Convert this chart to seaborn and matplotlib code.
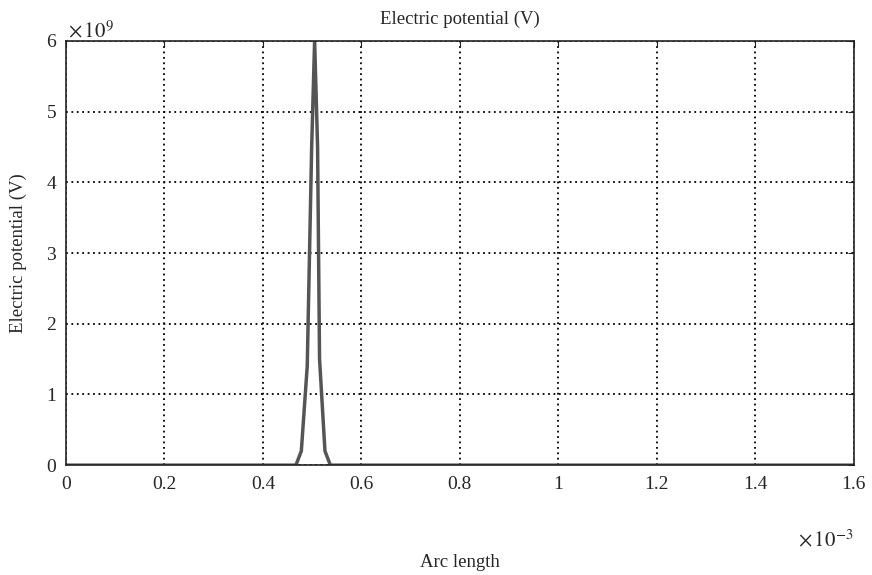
import matplotlib
matplotlib.use("Agg")
import matplotlib.pyplot as plt
import seaborn as sns
import pandas as pd

# arc length (x 1e-3) and electric potential (x 1e9 V)
arc_length = [0.0, 0.467, 0.478, 0.490, 0.499, 0.505, 0.511, 0.515, 0.526, 0.537, 1.6]
potential = [0.0, 0.0, 0.2, 1.4, 4.5, 6.0, 4.5, 1.5, 0.2, 0.0, 0.0]
xticks = [0, 0.2, 0.4, 0.6, 0.8, 1.0, 1.2, 1.4, 1.6]
xticklabels = ["0", "0.2", "0.4", "0.6", "0.8", "1", "1.2", "1.4", "1.6"]
yticks = [0, 1, 2, 3, 4, 5, 6]

sns.set_style("white")
plt.rcParams['font.family'] = ['Liberation Serif', 'DejaVu Serif']
plt.rcParams['mathtext.fontset'] = 'stix'

df = pd.DataFrame({'arc': arc_length, 'pot': potential})

fig = plt.figure(figsize=(8.72, 5.75), dpi=100)
ax = fig.add_axes([0.0757, 0.191, 0.979 - 0.0757, 0.929 - 0.191])
sns.lineplot(data=df, x='arc', y='pot', ax=ax, color='#555555', linewidth=2.5)

ax.set_xlim(0, 1.6)
ax.set_ylim(0, 6)
ax.set_xticks(xticks)
ax.set_xticklabels(xticklabels)
ax.set_yticks(yticks)
ax.tick_params(axis='both', labelsize=14, direction='in', length=4,
               top=True, right=True, color='#222222')
ax.tick_params(axis='x', pad=8)
ax.tick_params(axis='y', pad=7)
ax.grid(True, color='black', linestyle=(0, (1, 2)), linewidth=1.3)
for s in ax.spines.values():
    s.set_color('#222222')
    s.set_linewidth(1.2)

ax.set_title('Electric potential (V)', fontsize=13.5, pad=12)
ax.set_xlabel('Arc length', fontsize=13.5, labelpad=44)
ax.set_ylabel('Electric potential (V)', fontsize=13.5, labelpad=14)
ax.text(0.003, 1.022, r'$\times\,10^{9}$', transform=ax.transAxes, fontsize=15,
        ha='left', va='center')
ax.text(1.0, -0.177, r'$\times\,10^{-3}$', transform=ax.transAxes, fontsize=15,
        ha='right', va='center')

fig.savefig('out.png', dpi=100)
